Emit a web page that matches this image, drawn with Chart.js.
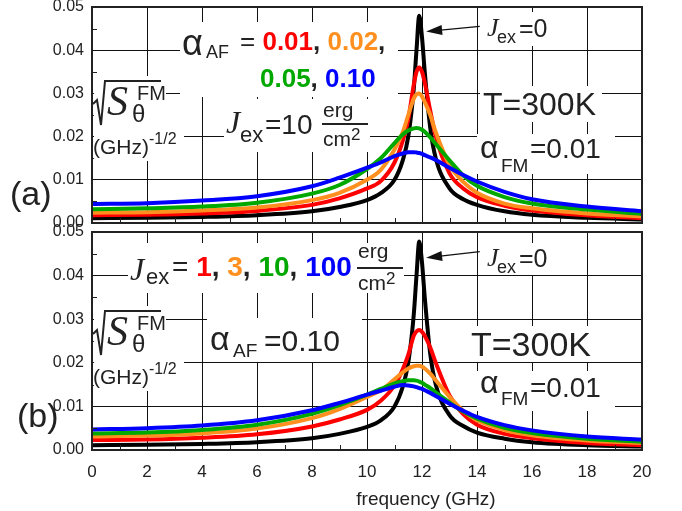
<!DOCTYPE html>
<html>
<head>
<meta charset="utf-8">
<script src="https://cdn.jsdelivr.net/npm/chart.js@4.4.1/dist/chart.umd.min.js"></script>
<style>
  html, body { margin: 0; padding: 0; background: #fff; }
  #wrap { position: relative; width: 682px; height: 511px; overflow: hidden; font-family: 'Liberation Sans', Arial, sans-serif; color: #222; }
  canvas { position: absolute; left: 0; }
  .box { position: absolute; background: #fff; }
  .t { position: absolute; white-space: nowrap; line-height: 1; }
  .j { font-family: 'Liberation Serif', 'Times New Roman', serif; font-style: italic; }
  .bar { position: absolute; height: 2px; background: #222; }
  .r { color: #ff0000; } .o { color: #ff9020; } .g { color: #00a800; } .b { color: #0000ff; }
</style>
</head>
<body>
<div id="wrap">
  <canvas id="chartA" width="682" height="256" style="top:-13px"></canvas>
  <canvas id="chartB" width="682" height="299" style="top:212px"></canvas>

  <!-- white boxes behind the annotations (a) -->
  <div class="box" style="left:94px;top:76px;width:72px;height:56px"></div>
  <div class="box" style="left:94px;top:130px;width:90px;height:31px"></div>
  <div class="box" style="left:180px;top:22px;width:218px;height:75px"></div>
  <div class="box" style="left:224px;top:99px;width:146px;height:53px"></div>
  <div class="box" style="left:483px;top:12px;width:78px;height:34px"></div>
  <div class="box" style="left:480px;top:86px;width:122px;height:36px"></div>
  <div class="box" style="left:477px;top:134px;width:138px;height:40px"></div>
  <!-- (b) -->
  <div class="box" style="left:94px;top:306px;width:72px;height:56px"></div>
  <div class="box" style="left:94px;top:360px;width:90px;height:31px"></div>
  <div class="box" style="left:128px;top:243px;width:276px;height:50px"></div>
  <div class="box" style="left:207px;top:318px;width:155px;height:44px"></div>
  <div class="box" style="left:483px;top:243px;width:78px;height:32px"></div>
  <div class="box" style="left:468px;top:326px;width:134px;height:36px"></div>
  <div class="box" style="left:477px;top:371px;width:138px;height:40px"></div>

  <svg width="682" height="511" style="position:absolute;left:0;top:0">
    <path d="M93 104 L97 100 L101 125 L105 81 L161 81" stroke="#222" stroke-width="2" fill="none"/>
    <path d="M93 334 L97 330 L101 355 L105 311 L161 311" stroke="#222" stroke-width="2" fill="none"/>
  </svg>

  <!-- panel (a) texts -->
  <div class="t" style="left:10px;top:176px;font-size:34px">(a)</div>
  <div class="t j" style="left:107px;top:80px;font-size:42px">S</div>
  <div class="t" style="left:137px;top:83px;font-size:20px">FM</div>
  <div class="t" style="left:132px;top:102px;font-size:24px">θ</div>
  <div class="t" style="left:93px;top:136px;font-size:21px">(GHz)</div>
  <div class="t" style="left:149px;top:131px;font-size:16px">-1/2</div>

  <div class="t" style="left:182px;top:25px;font-size:36px">α</div>
  <div class="t" style="left:206px;top:43px;font-size:18px">AF</div>
  <div class="t" style="left:240px;top:28px;font-size:26px">= <b class="r">0.01</b><b>, </b><b class="o">0.02</b><b>,</b></div>
  <div class="t" style="left:260px;top:65px;font-size:26px"><b class="g">0.05</b><b>, </b><b class="b">0.10</b></div>

  <div class="t j" style="left:226px;top:106px;font-size:32px">J</div>
  <div class="t" style="left:240px;top:124px;font-size:22px">ex</div>
  <div class="t" style="left:265px;top:111px;font-size:28px">=10</div>
  <div class="t" style="left:323px;top:99px;font-size:21px">erg</div>
  <div class="bar" style="left:322px;top:123px;width:46px"></div>
  <div class="t" style="left:323px;top:128px;font-size:21px">cm</div>
  <div class="t" style="left:351px;top:126px;font-size:17px">2</div>

  <div class="t j" style="left:487px;top:15px;font-size:26px">J</div>
  <div class="t" style="left:497px;top:28px;font-size:18px">ex</div>
  <div class="t" style="left:519px;top:16px;font-size:25px">=0</div>

  <div class="t" style="left:483px;top:88px;font-size:32px">T=300K</div>
  <div class="t" style="left:480px;top:131px;font-size:32px">α</div>
  <div class="t" style="left:501px;top:156px;font-size:19px">FM</div>
  <div class="t" style="left:530px;top:135px;font-size:28px">=0.01</div>

  <!-- panel (b) texts -->
  <div class="t" style="left:17px;top:398px;font-size:34px">(b)</div>
  <div class="t j" style="left:107px;top:310px;font-size:42px">S</div>
  <div class="t" style="left:137px;top:313px;font-size:20px">FM</div>
  <div class="t" style="left:132px;top:332px;font-size:24px">θ</div>
  <div class="t" style="left:93px;top:366px;font-size:21px">(GHz)</div>
  <div class="t" style="left:149px;top:361px;font-size:16px">-1/2</div>

  <div class="t j" style="left:130px;top:253px;font-size:32px">J</div>
  <div class="t" style="left:146px;top:266px;font-size:22px">ex</div>
  <div class="t" style="left:172px;top:253px;font-size:28px">= <b class="r">1</b><b>, </b><b class="o">3</b><b>, </b><b class="g">10</b><b>, </b><b class="b">100</b></div>
  <div class="t" style="left:358px;top:240px;font-size:21px">erg</div>
  <div class="bar" style="left:357px;top:267px;width:46px"></div>
  <div class="t" style="left:358px;top:272px;font-size:21px">cm</div>
  <div class="t" style="left:386px;top:270px;font-size:17px">2</div>

  <div class="t" style="left:210px;top:321px;font-size:34px">α</div>
  <div class="t" style="left:233px;top:341px;font-size:19px">AF</div>
  <div class="t" style="left:264px;top:326px;font-size:30px">=0.10</div>

  <div class="t j" style="left:487px;top:245px;font-size:26px">J</div>
  <div class="t" style="left:497px;top:258px;font-size:18px">ex</div>
  <div class="t" style="left:519px;top:246px;font-size:25px">=0</div>

  <div class="t" style="left:471px;top:327px;font-size:34px">T=300K</div>
  <div class="t" style="left:480px;top:366px;font-size:32px">α</div>
  <div class="t" style="left:501px;top:389px;font-size:19px">FM</div>
  <div class="t" style="left:530px;top:374px;font-size:28px">=0.01</div>

  <div class="t" style="left:426px;top:489px;font-size:19px;transform:translateX(-50%)">frequency (GHz)</div>
</div>

<script>
// frequency grid (GHz), shared by all curves
const freq = [0, 2, 4, 6, 8, 9, 10, 10.5, 11, 11.3, 11.5, 11.7, 11.8, 11.9, 12, 12.1, 12.3, 12.5, 13, 13.5, 14, 15, 16, 18, 20];

// panel (a): Jex = 10 erg/cm2, alpha_AF = 0.01 / 0.02 / 0.05 / 0.10, plus Jex = 0
const blackA  = [0.0011, 0.0012, 0.0014, 0.0018, 0.0027, 0.0037, 0.0053, 0.0069, 0.0100, 0.0145, 0.0200, 0.0310, 0.0400, 0.0480, 0.0430, 0.0350, 0.0220, 0.0150, 0.0080, 0.0055, 0.0042, 0.0027, 0.0019, 0.0012, 0.0008];
const redA    = [0.0018, 0.0019, 0.0022, 0.0028, 0.0042, 0.0057, 0.0080, 0.0097, 0.0140, 0.0190, 0.0240, 0.0320, 0.0350, 0.0360, 0.0350, 0.0325, 0.0260, 0.0200, 0.0115, 0.0080, 0.0060, 0.0040, 0.0029, 0.0018, 0.0011];
const orangeA = [0.0024, 0.0025, 0.0029, 0.0036, 0.0053, 0.0070, 0.0100, 0.0123, 0.0170, 0.0210, 0.0250, 0.0288, 0.0298, 0.0300, 0.0293, 0.0280, 0.0250, 0.0210, 0.0135, 0.0095, 0.0070, 0.0045, 0.0034, 0.0022, 0.0015];
const greenA  = [0.0032, 0.0034, 0.0038, 0.0047, 0.0068, 0.0088, 0.0125, 0.0150, 0.0185, 0.0205, 0.0214, 0.0219, 0.0220, 0.0219, 0.0216, 0.0211, 0.0198, 0.0183, 0.0145, 0.0110, 0.0086, 0.0060, 0.0045, 0.0031, 0.0021];
const blueA   = [0.0044, 0.0046, 0.0052, 0.0062, 0.0085, 0.0105, 0.0128, 0.0140, 0.0155, 0.0161, 0.0164, 0.0164, 0.0163, 0.0162, 0.0160, 0.0157, 0.0152, 0.0146, 0.0128, 0.0111, 0.0096, 0.0072, 0.0055, 0.0038, 0.0027];

// panel (b): alpha_AF = 0.10, Jex = 1 / 3 / 10 / 100 erg/cm2, plus Jex = 0
const blackB  = [0.0011, 0.0012, 0.0014, 0.0018, 0.0027, 0.0037, 0.0053, 0.0068, 0.0100, 0.0145, 0.0200, 0.0310, 0.0400, 0.0478, 0.0430, 0.0350, 0.0220, 0.0150, 0.0080, 0.0055, 0.0040, 0.0026, 0.0018, 0.0011, 0.0008];
const redB    = [0.0023, 0.0024, 0.0028, 0.0036, 0.0054, 0.0070, 0.0092, 0.0113, 0.0148, 0.0185, 0.0218, 0.0262, 0.0272, 0.0275, 0.0271, 0.0262, 0.0235, 0.0200, 0.0125, 0.0082, 0.0058, 0.0037, 0.0027, 0.0016, 0.0011];
const orangeB = [0.0031, 0.0033, 0.0038, 0.0049, 0.0073, 0.0094, 0.0122, 0.0137, 0.0162, 0.0178, 0.0187, 0.0192, 0.0193, 0.0193, 0.0191, 0.0187, 0.0175, 0.0160, 0.0122, 0.0090, 0.0068, 0.0046, 0.0034, 0.0022, 0.0016];
const greenB  = [0.0038, 0.0040, 0.0046, 0.0058, 0.0083, 0.0103, 0.0127, 0.0140, 0.0153, 0.0158, 0.0160, 0.0160, 0.0159, 0.0157, 0.0154, 0.0150, 0.0142, 0.0132, 0.0109, 0.0088, 0.0072, 0.0051, 0.0039, 0.0026, 0.0019];
const blueB   = [0.0047, 0.0050, 0.0056, 0.0068, 0.0091, 0.0108, 0.0127, 0.0136, 0.0145, 0.0149, 0.0148, 0.0146, 0.0144, 0.0142, 0.0140, 0.0137, 0.0131, 0.0124, 0.0106, 0.0090, 0.0076, 0.0057, 0.0045, 0.0031, 0.0024];

const xTicks = [0, 2, 4, 6, 8, 10, 12, 14, 16, 18, 20];
const yTicks = [0, 0.01, 0.02, 0.03, 0.04, 0.05];
// arrow "Jex=0" -> black peak, [tail, head] in data units
const arrowA = [[14.1, 0.0455], [12.15, 0.0443]];
const arrowB = [[14.1, 0.0455], [12.15, 0.0441]];

const FONT = "'Liberation Sans', Arial, sans-serif";
const colors = { blue: '#0000ff', green: '#00a800', orange: '#ff9020', red: '#ff0000', black: '#000000' };

const toPoints = ys => freq.map((f, i) => ({ x: f, y: ys[i] }));

const line = (ys, color) => ({
  data: toPoints(ys),
  borderColor: color,
  borderWidth: 4,
  pointRadius: 0,
  fill: false,
  cubicInterpolationMode: 'monotone',
  borderJoinStyle: 'round',
  borderCapStyle: 'round'
});

// minor ticks, the arrow and the frame
const framePlugin = {
  id: 'frame',
  afterDatasetsDraw(chart, args, opts) {
    const { ctx, chartArea: a, scales: { x, y } } = chart;
    ctx.save();
    ctx.strokeStyle = '#222';
    ctx.lineWidth = 1;
    ctx.beginPath();
    for (let f = 1; f < 20; f += 2) {
      const px = Math.round(x.getPixelForValue(f)) + 0.5;
      ctx.moveTo(px, a.bottom);
      ctx.lineTo(px, a.bottom - 5);
    }
    for (let k = 0; k < 5; k++) {
      const py = Math.round(y.getPixelForValue(0.005 + k * 0.01)) + 0.5;
      ctx.moveTo(a.left, py);
      ctx.lineTo(a.left + 5, py);
    }
    ctx.stroke();

    if (opts.arrow) {
      const [t, h] = opts.arrow;
      const x0 = x.getPixelForValue(t[0]), y0 = y.getPixelForValue(t[1]);
      const x1 = x.getPixelForValue(h[0]), y1 = y.getPixelForValue(h[1]);
      const ang = Math.atan2(y1 - y0, x1 - x0);
      ctx.strokeStyle = '#111';
      ctx.fillStyle = '#111';
      ctx.lineWidth = 1.2;
      ctx.beginPath();
      ctx.moveTo(x0, y0);
      ctx.lineTo(x1 - 12 * Math.cos(ang), y1 - 12 * Math.sin(ang));
      ctx.stroke();
      ctx.beginPath();
      ctx.moveTo(x1, y1);
      ctx.lineTo(x1 - 16 * Math.cos(ang) + 5 * Math.sin(ang), y1 - 16 * Math.sin(ang) - 5 * Math.cos(ang));
      ctx.lineTo(x1 - 16 * Math.cos(ang) - 5 * Math.sin(ang), y1 - 16 * Math.sin(ang) + 5 * Math.cos(ang));
      ctx.closePath();
      ctx.fill();
    }

    ctx.strokeStyle = '#222';
    ctx.lineWidth = 2;
    ctx.strokeRect(a.left, a.top, a.right - a.left, a.bottom - a.top);
    ctx.restore();
  }
};

function makePanel(id, series, showX, xHeight, arrow) {
  return new Chart(document.getElementById(id), {
    type: 'line',
    data: {
      // first dataset is drawn last (on top): blue over green over ... over black
      datasets: [
        line(series[4], colors.blue),
        line(series[3], colors.green),
        line(series[2], colors.orange),
        line(series[1], colors.red),
        line(series[0], colors.black)
      ]
    },
    options: {
      responsive: false,
      animation: false,
      events: [],
      layout: { padding: { left: 0, right: 40, top: 20, bottom: 0 } },
      plugins: { legend: { display: false }, tooltip: { enabled: false }, frame: { arrow } },
      scales: {
        x: {
          type: 'linear', min: 0, max: 20,
          afterBuildTicks: s => { s.ticks = xTicks.map(v => ({ value: v })); },
          afterFit: s => { s.height = xHeight; },
          ticks: { display: showX, padding: 12, color: '#222', font: { size: 17, family: FONT } },
          grid: { color: '#111', lineWidth: 1, drawTicks: false },
          border: { display: false }
        },
        y: {
          min: 0, max: 0.05,
          afterBuildTicks: s => { s.ticks = yTicks.map(v => ({ value: v })); },
          afterFit: s => { s.width = 92; },
          ticks: { padding: 8, color: '#222', font: { size: 16, family: FONT }, callback: v => v.toFixed(2) },
          grid: { color: '#111', lineWidth: 1, drawTicks: false },
          border: { display: false }
        }
      }
    },
    plugins: [framePlugin]
  });
}

makePanel('chartA', [blackA, redA, orangeA, greenA, blueA], false, 20, arrowA);
makePanel('chartB', [blackB, redB, orangeB, greenB, blueB], true, 61, arrowB);
</script>
</body>
</html>
